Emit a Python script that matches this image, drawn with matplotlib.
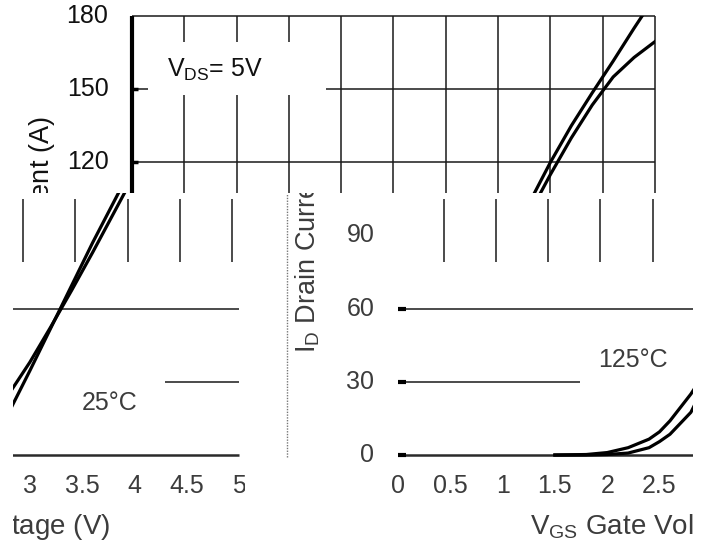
import matplotlib
matplotlib.use("Agg")
import matplotlib.pyplot as plt
from matplotlib.patches import Rectangle
from matplotlib.path import Path

plt.rcParams.update({
    "font.family": ["Liberation Sans", "DejaVu Sans"],
    "mathtext.fontset": "custom",
    "mathtext.rm": "Liberation Sans",
    "mathtext.it": "Liberation Sans:italic",
    "font.size": 18})

# transfer characteristics, V_DS = 5 V
vgs = [1.5, 1.8, 2.0, 2.2, 2.4, 2.5, 2.6, 2.8, 3.0, 3.2, 3.4, 3.6, 3.8, 4.0, 4.2, 4.4, 4.6, 4.8, 5.0]
id_25 = [0, 0, 0.2, 0.8, 3.0, 5.5, 8.5, 17.5, 34.5, 52, 69.5, 87, 103.5, 120, 135, 148.5, 161.5, 175, 188]
id_125 = [0, 0.2, 1.0, 3.0, 6.5, 9.5, 14, 25, 38, 52.5, 67.5, 83, 99, 115, 130, 143.5, 155, 163, 169.5]

xticks = [0, 0.5, 1, 1.5, 2, 2.5, 3, 3.5, 4, 4.5, 5]
xtick_labels = ["0", "0.5", "1", "1.5", "2", "2.5", "3", "3.5", "4", "4.5", "5"]
yticks = [0, 30, 60, 90, 120, 150, 180]
ytick_labels = ["0", "30", "60", "90", "120", "150", "180"]

# pixel geometry of the original chart box
FIG_W, FIG_H = 712, 545
X0_PX, PX_PER_V = 132, 104.6
Y0_PX, PX_PER_A = 455, 2.439


def window(fig, x0, y0, x1, y1, dx):
    """Axes over a pixel strip of the figure, showing the chart shifted by dx."""
    ax = fig.add_axes([x0 / FIG_W, 1 - y1 / FIG_H, (x1 - x0) / FIG_W, (y1 - y0) / FIG_H])
    ax.set_xlim((x0 - dx - X0_PX) / PX_PER_V, (x1 - dx - X0_PX) / PX_PER_V)
    ax.set_ylim((Y0_PX - y1) / PX_PER_A, (Y0_PX - y0) / PX_PER_A)
    ax.set_axis_off()
    return ax


def label(ax, s, xy, off, color, margin=30, **kw):
    # skip texts that would land wholly outside this strip
    px, py = ax.transData.transform(xy)
    px += off[0] * 100 / 72
    py += off[1] * 100 / 72
    b = ax.bbox
    if not (b.x0 - margin < px < b.x1 + margin and b.y0 - margin < py < b.y1 + margin):
        return
    ax.annotate(s, xy=xy, xytext=off, textcoords="offset points",
                ha=kw.pop("ha", "center"), va=kw.pop("va", "center"),
                color=color, clip_on=True, annotation_clip=False, **kw)


def draw(ax, top):
    txt = "#111111" if top else "#3c3c3c"
    grid = "#1a1a1a"

    if top:
        ax.vlines(xticks[1:], 0, 180, colors=grid, lw=1.1, zorder=1)
        ax.hlines([120, 150, 180], 0, 5, colors=grid, lw=1.1, zorder=1)
        ax.vlines(0, 0, 180, colors="black", lw=3.0, zorder=3)
        ax.hlines([120, 150], 0, 0.06, colors="black", lw=2.5, zorder=3)
    else:
        ax.vlines([x - 0.065 for x in xticks[1:]], 79, 105, colors=grid, lw=1.1, zorder=1)
        ax.hlines([30, 60], 0, 5, colors=grid, lw=1.1, zorder=1)
        ax.hlines(0, 0, 5, colors="#2a2a2a", lw=1.8, zorder=3)
        ax.hlines([0, 30, 60], 0, 0.08, colors="black", lw=3.0, zorder=3)

    # label boxes that hide the grid behind the annotations
    ax.add_patch(Rectangle((0.15, 147.5), 1.7, 22, fc="white", ec="none", zorder=2))
    ax.add_patch(Rectangle((1.74, 26.5), 1.6, 20, fc="white", ec="none", zorder=2))
    ax.add_patch(Rectangle((3.29, 16), 1.0, 16, fc="white", ec="none", zorder=2))

    # curves stay inside the chart box (0..5 V, 0..180 A) and inside the strip
    box = Path([(0, -5), (5, -5), (5, 180), (0, 180), (0, -5)], closed=True)
    for ids in (id_25, id_125):
        line, = ax.plot(vgs, ids, color="black", lw=2.3, zorder=4)
        line.set_clip_path(box, ax.transData)
        line.set_clip_box(ax.bbox)

    if top:
        ax.text(0.335, 155, r"V$_{\mathrm{DS}}$= 5V", ha="left", va="baseline",
                color=txt, clip_on=True, zorder=5)
    label(ax, "25\u00b0C", (3.50, 18.5), (0, 0), txt, ha="left", va="baseline", zorder=5)
    label(ax, "125\u00b0C", (1.91, 36.1), (0, 0), txt, ha="left", va="baseline", zorder=5)

    for v, s in zip(yticks, ytick_labels):
        label(ax, s, (0, v), (-17, 0), txt, ha="right")
    for v, s in zip(xticks, xtick_labels):
        label(ax, s, (v, 0), (0, -22), txt)
    label(ax, r"V$_{\mathrm{GS}}$ Gate Voltage (V)", (2.52, 0), (0, -52), txt,
          margin=140, fontsize=20)
    label(ax, r"I$_{\mathrm{D}}$ Drain Current (A)", (0, 90.2), (-65, 0), txt,
          margin=140, fontsize=19.5, rotation=90)


def plot(plot_file):
    fig = plt.figure(figsize=(FIG_W / 100, FIG_H / 100), dpi=100)

    ax_top = window(fig, 0, 0, 712, 193, 0)
    draw(ax_top, True)

    ax_left = window(fig, 13, 193, 245, 545, -416)
    draw(ax_left, False)

    ax_right = window(fig, 287, 193, 693, 545, 266)
    draw(ax_right, False)
    x_edge = ax_right.get_xlim()[0]
    ax_right.vlines(x_edge, -1, 107, colors="#777777", lw=1.0,
                    linestyles=(0, (1, 1)), clip_on=False)

    fig.savefig(plot_file, dpi=100)
    plt.close(fig)


if __name__ == "__main__":
    plot("out.png")
